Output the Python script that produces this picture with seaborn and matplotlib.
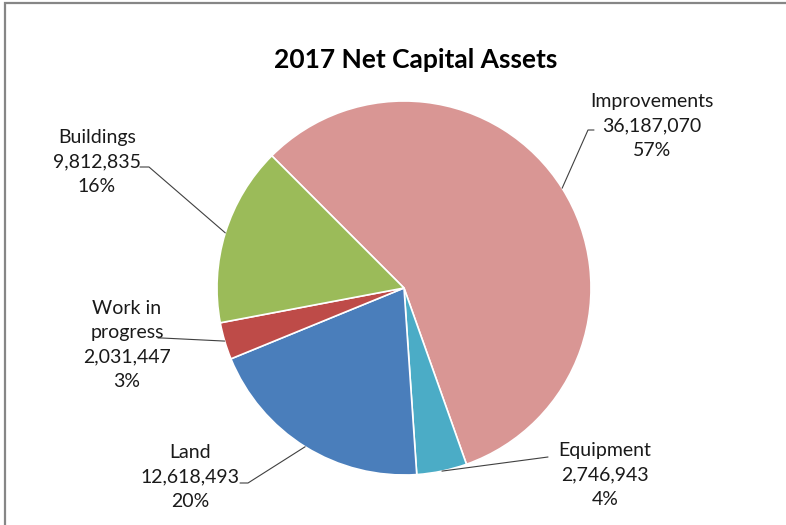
import numpy as np
import matplotlib
matplotlib.use("Agg")
import matplotlib.pyplot as plt
import seaborn as sns

# Net capital assets, 2017
categories = ["Improvements", "Equipment", "Land", "Work in\nprogress", "Buildings"]
values = [36187070, 2746943, 12618493, 2031447, 9812835]
percent_labels = ["57%", "4%", "20%", "3%", "16%"]
colors = ["#D99694", "#4BACC6", "#4A7EBB", "#BE4B48", "#9BBB59"]

sns.set_theme(style="white")
plt.rcParams["font.family"] = ["Lato", "DejaVu Sans"]

W, H = 786, 525
fig = plt.figure(figsize=(W / 100, H / 100), dpi=100)
ax = fig.add_axes([0, 0, 1, 1])

cx, cy, r = 404, H - 288, 187
start = 135
wedges, _ = ax.pie(values, colors=colors, startangle=start, counterclock=False,
                   center=(cx, cy), radius=r, frame=True,
                   wedgeprops=dict(edgecolor="white", linewidth=1.2))
ax.set_xlim(0, W)
ax.set_ylim(0, H)
ax.set_aspect("equal")
ax.axis("off")

# label block centres and leader-line elbows (y measured from the top)
label_pos = [(652, 126), (605, 475), (190, 477), (127, 345), (97, 162)]
elbows = [((588, 130), (594, 130)),
          ((548, 457), (548, 457)),
          ((248, 483), (240, 483)),
          ((162, 338), (158, 338)),
          ((149, 167), (140, 167))]

total = sum(values)
angle = start
for i, (cat, val, pct) in enumerate(zip(categories, values, percent_labels)):
    sweep = 360 * val / total
    mid = np.deg2rad(angle - sweep / 2)
    angle -= sweep
    ax_x, ax_y = cx + r * np.cos(mid), cy + r * np.sin(mid)
    (e1x, e1y), (e2x, e2y) = elbows[i]
    ax.plot([ax_x, e1x, e2x], [ax_y, H - e1y, H - e2y], color="#404040", lw=0.8)
    lx, ly = label_pos[i]
    ax.text(lx, H - ly, f"{cat}\n{val:,}\n{pct}", ha="center", va="center",
            fontsize=14, color="#1a1a1a", linespacing=1.52)

ax.text(416, H - 60, "2017 Net Capital Assets", ha="center", va="center",
        fontsize=19, fontweight="bold", color="#000000")

# chart frame
ax.plot([5, 5, W + 5], [-5, H - 3, H - 3], color="#868686", lw=1.6,
        solid_joinstyle="miter")

fig.savefig("out.png", dpi=100)
